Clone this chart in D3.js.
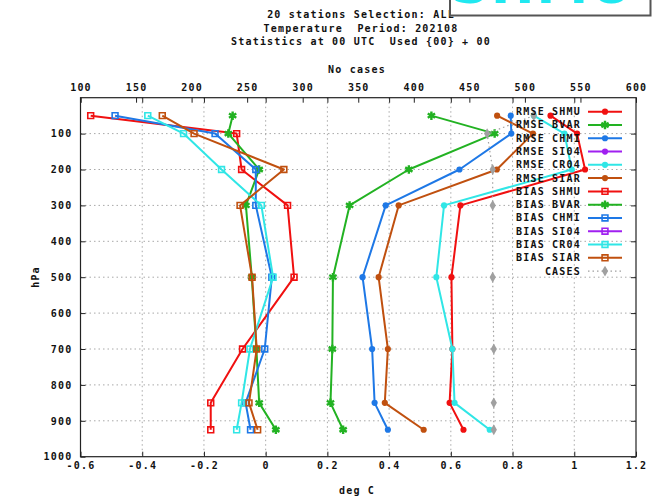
<!DOCTYPE html>
<html>
<head>
<meta charset="utf-8">
<script src="https://cdn.jsdelivr.net/npm/d3@7"></script>
<style>
  html, body { margin: 0; padding: 0; background: #fff; }
  svg { display: block; }
  text { font-family: "DejaVu Sans Mono", monospace; font-weight: bold; font-size: 10px; letter-spacing: 1.2px; fill: #111; white-space: pre; }
</style>
</head>
<body>
<svg id="chart" width="653" height="498"></svg>
<script>
// Pressure levels (hPa)
const levels = [50, 100, 200, 300, 500, 700, 850, 925];

// RMSE (deg C) per member
const rmseSHMU = [0.923, 1.009, 1.035, 0.631, 0.602, 0.605, 0.596, 0.641];
const rmseBVAR = [0.537, 0.742, 0.464, 0.272, 0.218, 0.216, 0.210, 0.251];
const rmseCHMI = [0.794, 0.796, 0.628, 0.389, 0.314, 0.345, 0.353, 0.396];
const rmseSI04 = [null, null, null, null, null, null, null, null];
const rmseCR04 = [0.869, 0.968, 0.992, 0.578, 0.553, 0.605, 0.612, 0.726];
const rmseSIAR = [0.750, 0.866, 0.749, 0.431, 0.366, 0.396, 0.386, 0.512];

// BIAS (deg C) per member
const biasSHMU = [-0.567, -0.094, -0.078, 0.071, 0.092, -0.075, -0.178, -0.178];
const biasBVAR = [-0.107, -0.121, -0.021, -0.064, -0.045, -0.030, -0.021, 0.033];
const biasCHMI = [-0.488, -0.164, -0.032, -0.032, 0.020, -0.003, -0.065, -0.049];
const biasSI04 = [null, null, null, null, null, null, null, null];
const biasCR04 = [-0.382, -0.266, -0.143, -0.014, 0.024, -0.051, -0.078, -0.094];
const biasSIAR = [-0.335, -0.232, 0.059, -0.083, -0.044, -0.029, -0.054, -0.026];

// Number of cases per level (top axis)
const cases = [508, 466, 471, 471, 471, 472, 472, 472];

// Axis ticks
const xTicks = [-0.6, -0.4, -0.2, 0, 0.2, 0.4, 0.6, 0.8, 1, 1.2];
const xTickLabels = ["-0.6", "-0.4", "-0.2", "0", "0.2", "0.4", "0.6", "0.8", "1", "1.2"];
const x2Ticks = [100, 150, 200, 250, 300, 350, 400, 450, 500, 550, 600];
const yTicks = [100, 200, 300, 400, 500, 600, 700, 800, 900, 1000];

const titleLines = [
  "20 stations Selection: ALL",
  "Temperature  Period: 202108",
  "Statistics at 00 UTC  Used {00} + 00"
];

const colors = {
  SHMU: "#f01010", BVAR: "#22b222", CHMI: "#1e78e6",
  SI04: "#a020f0", CR04: "#30e6e6", SIAR: "#c0500f", CASES: "#a0a0a0"
};

const series = [
  { name: "RMSE SHMU", values: rmseSHMU, color: colors.SHMU, mark: "circle" },
  { name: "RMSE BVAR", values: rmseBVAR, color: colors.BVAR, mark: "star" },
  { name: "RMSE CHMI", values: rmseCHMI, color: colors.CHMI, mark: "circle" },
  { name: "RMSE SI04", values: rmseSI04, color: colors.SI04, mark: "circle" },
  { name: "RMSE CR04", values: rmseCR04, color: colors.CR04, mark: "circle" },
  { name: "RMSE SIAR", values: rmseSIAR, color: colors.SIAR, mark: "circle" },
  { name: "BIAS SHMU", values: biasSHMU, color: colors.SHMU, mark: "square" },
  { name: "BIAS BVAR", values: biasBVAR, color: colors.BVAR, mark: "star" },
  { name: "BIAS CHMI", values: biasCHMI, color: colors.CHMI, mark: "square" },
  { name: "BIAS SI04", values: biasSI04, color: colors.SI04, mark: "square" },
  { name: "BIAS CR04", values: biasCR04, color: colors.CR04, mark: "square" },
  { name: "BIAS SIAR", values: biasSIAR, color: colors.SIAR, mark: "square" }
];

const svg = d3.select("#chart");
const L = 80.5, R = 636, T = 97.7, B = 456.7;

const x = d3.scaleLinear().domain([-0.6, 1.2]).range([L, R]);
const x2 = d3.scaleLinear().domain([100, 600]).range([L, R]);
const y = d3.scaleLinear().domain([0, 1000]).range([T, B]);

// Grid
const grid = svg.append("g").attr("stroke", "#a8a8a8").attr("stroke-dasharray", "1.5,3").attr("stroke-width", 1);
grid.selectAll(".gx").data(xTicks.slice(1, -1)).join("line")
  .attr("x1", d => x(d)).attr("x2", d => x(d)).attr("y1", T).attr("y2", B);
grid.selectAll(".gy").data(yTicks.slice(0, -1)).join("line")
  .attr("x1", L).attr("x2", R).attr("y1", d => y(d)).attr("y2", d => y(d));

// Axes (ticks point inward)
function styleAxis(g) {
  g.select(".domain").remove();
  g.selectAll(".tick line").attr("stroke", "#222").attr("stroke-width", 1);
  g.selectAll(".tick text").attr("fill", "#111").attr("font-family", null).attr("font-size", null);
}
svg.append("g").attr("transform", `translate(0,${B})`)
  .call(d3.axisBottom(x).tickValues(xTicks).tickFormat((d, i) => xTickLabels[i]).tickSize(-5).tickPadding(5))
  .call(styleAxis);
svg.append("g").attr("transform", `translate(0,${T})`)
  .call(d3.axisTop(x).tickValues(xTicks).tickFormat("").tickSize(-5))
  .call(styleAxis);
svg.append("g").attr("transform", `translate(0,${T})`)
  .call(d3.axisTop(x2).tickValues(x2Ticks).tickFormat(d3.format("d")).tickSize(-5).tickPadding(7))
  .call(styleAxis);
svg.append("g").attr("transform", `translate(${L},0)`)
  .call(d3.axisLeft(y).tickValues(yTicks).tickFormat(d3.format("d")).tickSize(-5).tickPadding(8))
  .call(styleAxis);
svg.append("g").attr("transform", `translate(${R},0)`)
  .call(d3.axisRight(y).tickValues(yTicks).tickFormat("").tickSize(-5))
  .call(styleAxis);

// Frame
svg.append("rect").attr("x", L).attr("y", T).attr("width", R - L).attr("height", B - T)
  .attr("fill", "none").attr("stroke", "#222").attr("stroke-width", 1.2);

// Axis titles
svg.append("text").attr("x", 357).attr("y", 73).attr("text-anchor", "middle").text("No cases");
svg.append("text").attr("x", 357).attr("y", 494).attr("text-anchor", "middle").text("deg C");
svg.append("text").attr("transform", "translate(39,277) rotate(-90)").attr("text-anchor", "middle").text("hPa");

// Marker drawing
const symCircle = d3.symbol(d3.symbolCircle, 30);
const symSquare = d3.symbol(d3.symbolSquare, 34);
const symStar = d3.symbol(d3.symbolAsterisk, 50);
const symDiamond = d3.symbol(d3.symbolDiamond, 34);

function drawMark(g, mark, color) {
  if (mark === "circle") g.append("path").attr("d", symCircle()).attr("fill", color);
  else if (mark === "square") g.append("path").attr("d", symSquare()).attr("fill", "none").attr("stroke", color).attr("stroke-width", 1.6);
  else if (mark === "star") g.append("path").attr("d", symStar()).attr("fill", "none").attr("stroke", color).attr("stroke-width", 2.4);
  else if (mark === "diamond") g.append("path").attr("d", symDiamond()).attr("fill", color);
}

const plot = svg.append("g");
series.forEach(s => {
  const pts = levels.map((lv, i) => ({ p: lv, v: s.values[i] })).filter(d => d.v !== null);
  const line = d3.line().x(d => x(d.v)).y(d => y(d.p));
  plot.append("path").datum(pts).attr("d", line)
    .attr("fill", "none").attr("stroke", s.color).attr("stroke-width", 2).attr("stroke-linejoin", "round");
  pts.forEach(d => {
    const g = plot.append("g").attr("transform", `translate(${x(d.v)},${y(d.p)})`);
    drawMark(g, s.mark, s.color);
  });
});

// Cases on the top axis scale
const casePts = levels.map((lv, i) => ({ p: lv, c: cases[i] }));
plot.append("path").datum(casePts)
  .attr("d", d3.line().x(d => x2(d.c)).y(d => y(d.p)))
  .attr("fill", "none").attr("stroke", colors.CASES).attr("stroke-width", 1.2).attr("stroke-dasharray", "1.5,3");
casePts.forEach(d => {
  const g = plot.append("g").attr("transform", `translate(${x2(d.c)},${y(d.p)})`);
  drawMark(g, "diamond", colors.CASES);
});

// Legend
const legendItems = series.concat([{ name: "CASES", color: colors.CASES, mark: "diamond", dotted: true }]);
const lg = svg.append("g");
legendItems.forEach((s, i) => {
  const yy = 111.7 + i * 13.28;
  lg.append("text").attr("x", 581).attr("y", yy).attr("dy", "0.35em").attr("text-anchor", "end").text(s.name);
  lg.append("line").attr("x1", 588).attr("x2", 622).attr("y1", yy).attr("y2", yy)
    .attr("stroke", s.color).attr("stroke-width", s.dotted ? 1.2 : 2)
    .attr("stroke-dasharray", s.dotted ? "1.5,3" : null);
  const g = lg.append("g").attr("transform", `translate(605,${yy})`);
  drawMark(g, s.mark, s.color);
});

// Title
svg.append("g").selectAll("text").data(titleLines).join("text")
  .attr("x", 361).attr("y", (d, i) => 18 + i * 13.6).attr("text-anchor", "middle").text(d => d);

// Logo box in the top-right corner
const clip = svg.append("defs").append("clipPath").attr("id", "logoClip");
clip.append("rect").attr("x", 450).attr("y", -2).attr("width", 200.5).attr("height", 17.5);
svg.append("rect").attr("x", 450).attr("y", -4).attr("width", 200.5).attr("height", 19.5)
  .attr("fill", "#fff").attr("stroke", "#555").attr("stroke-width", 2);
svg.append("text").attr("clip-path", "url(#logoClip)")
  .attr("x", 543).attr("y", 2.5).attr("text-anchor", "middle")
  .style("font-family", "'DejaVu Sans', sans-serif").style("font-size", "52px").style("letter-spacing", "2px")
  .style("fill", "#20e8f0").text("SHMU");
</script>
</body>
</html>
